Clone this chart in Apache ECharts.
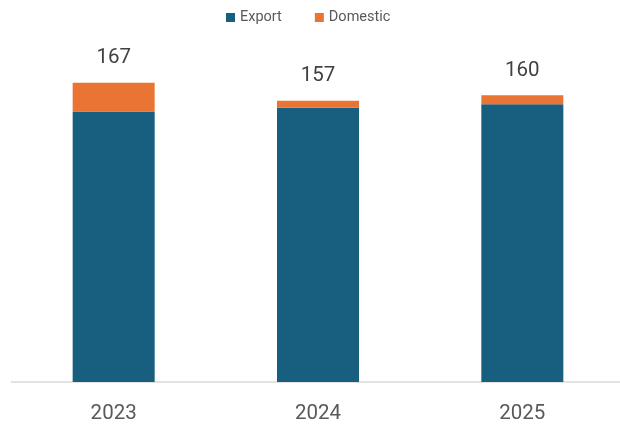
<!DOCTYPE html>
<html><head><meta charset="utf-8">
<script src="https://cdn.jsdelivr.net/npm/echarts@6/dist/echarts.min.js"></script>
<style>html,body{margin:0;padding:0;background:#fff}#c{width:620px;height:425px}</style>
</head><body><div id="c"></div>
<script>
const categories = ['2023', '2024', '2025'];
const exportVals = [151, 153, 155];
const domesticVals = [16, 4, 5];
const totals = [167, 157, 160];

const chart = echarts.init(document.getElementById('c'));
chart.setOption({
  animation: false,
  textStyle: { fontFamily: 'Roboto' },
  legend: {
    top: 5, left: 221, itemWidth: 9, itemHeight: 9, itemGap: 33,
    icon: 'rect',
    textStyle: { color: '#595959', fontSize: 14.5, fontFamily: 'Roboto' },
    data: ['Export', 'Domestic']
  },
  grid: { left: 11.5, width: 613, top: 23.6, bottom: 43, containLabel: false, outerBoundsMode: 'none' },
  xAxis: {
    type: 'category', data: categories,
    axisLine: { lineStyle: { color: '#d9d9d9', width: 1.5 } },
    axisTick: { show: false },
    axisLabel: { color: '#595959', fontSize: 20.5, margin: 21 }
  },
  yAxis: { type: 'value', min: 0, max: 200, show: false, splitLine: { show: false } },
  series: [
    { name: 'Export', type: 'bar', stack: 't', data: exportVals, barWidth: 82,
      itemStyle: { color: '#175E7F' } },
    { name: 'Domestic', type: 'bar', stack: 't', data: domesticVals, barWidth: 82,
      itemStyle: { color: '#EA7433' },
      label: { show: true, position: 'top', distance: 14, color: '#404040', fontSize: 20.5,
        formatter: p => String(totals[p.dataIndex]) } }
  ]
});
</script></body></html>
